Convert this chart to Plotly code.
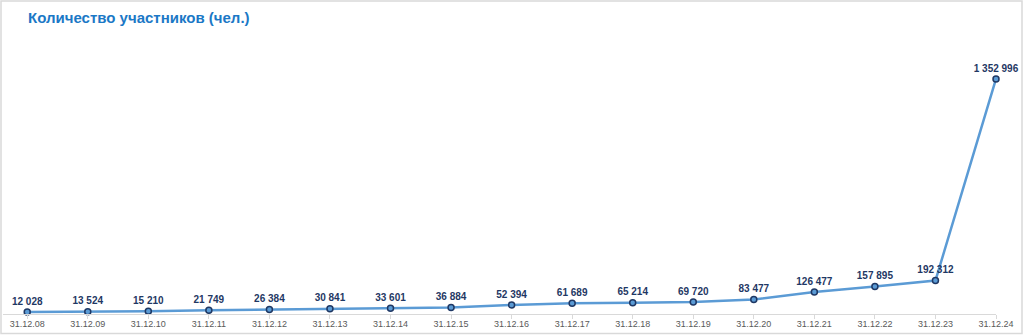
import plotly.graph_objects as go

categories = ["31.12.08", "31.12.09", "31.12.10", "31.12.11", "31.12.12", "31.12.13",
              "31.12.14", "31.12.15", "31.12.16", "31.12.17", "31.12.18", "31.12.19",
              "31.12.20", "31.12.21", "31.12.22", "31.12.23", "31.12.24"]
participants = [12028, 13524, 15210, 21749, 26384, 30841, 33601, 36884, 52394,
                61689, 65214, 69720, 83477, 126477, 157895, 192312, 1352996]
title_text = "Количество участников (чел.)"

labels = [f"{v:,}".replace(",", " ") for v in participants]
idx = list(range(len(categories)))

W, H = 1024, 335
L, R, T, B = 3, 28, 36, 21
pw, ph = W - L - R, H - T - B

def px(x):
    return (x - L) / pw

def py(y):
    return (H - B - y) / ph

fig = go.Figure()
fig.add_trace(go.Scatter(
    x=idx, y=participants, mode="lines+markers+text",
    line=dict(color="#5b9bd5", width=2.5),
    marker=dict(symbol="circle", size=6, color="#5b9bd5",
                line=dict(color="#1f3864", width=1.5)),
    text=labels, textposition="top center",
    textfont=dict(family="Arial, Liberation Sans", size=10, color="#1f3864", weight="bold"),
    cliponaxis=False, hoverinfo="skip"))

fig.update_layout(
    width=W, height=H,
    margin=dict(l=L, r=R, t=T, b=B),
    paper_bgcolor="white", plot_bgcolor="white",
    showlegend=False,
    title=dict(text=title_text, xref="container", yref="container",
               x=28 / W, y=1 - 18 / H, xanchor="left", yanchor="middle",
               font=dict(family="Arial, Liberation Sans", size=15, color="#1b78c6", weight="bold")),
    xaxis=dict(range=[-0.4, 16], tickmode="array", tickvals=idx, ticktext=categories,
               showgrid=False, zeroline=False, showline=True, linecolor="#d9d9d9", linewidth=1,
               ticks="outside", ticklen=4, tickcolor="#d9d9d9", ticklabelstandoff=-3,
               tickfont=dict(family="Arial, Liberation Sans", size=9, color="#595959")),
    yaxis=dict(range=[0, 1600000], visible=False, showgrid=False, zeroline=False),
    shapes=[dict(type="rect", xref="paper", yref="paper",
                 x0=px(1), x1=px(1022), y0=py(333.5), y1=py(1),
                 line=dict(color="#d9d9d9", width=1.5), fillcolor="rgba(0,0,0,0)", layer="below")],
)

fig.write_html("out.html")
